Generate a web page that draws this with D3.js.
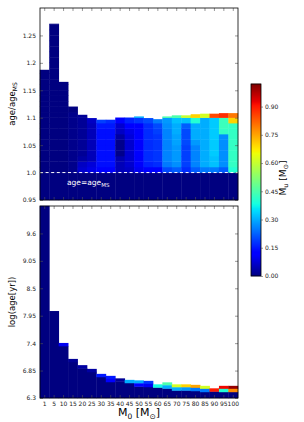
<!DOCTYPE html>
<html>
<head>
<meta charset="utf-8">
<script src="https://cdn.jsdelivr.net/npm/d3@7"></script>
<style>
body { margin: 0; background: #fff; }
text { font-family: "DejaVu Sans", sans-serif; }
</style>
</head>
<body>
<svg id="chart" width="304" height="422"></svg>
<script>
// initial masses (bins)
const masses = [1, 5, 10, 15, 20, 25, 30, 35, 40, 45, 50, 55, 60, 65, 70, 75, 80, 85, 90, 95, 100];

// upper panel: top of each column in age/age_MS
const ratioTop = [1.187, 1.271, 1.165, 1.12, 1.105, 1.099, 1.096, 1.096, 1.1, 1.1, 1.102,
    1.099, 1.097, 1.102, 1.104, 1.104, 1.106, 1.107, 1.107, 1.108, 1.108];
// M_u in cells of 0.01 starting at age/age_MS = 1.00 (anything above is 0)
const ratioCells = [
    [0, 0, 0, 0, 0, 0, 0, 0, 0, 0, 0],
    [0, 0, 0, 0, 0, 0, 0, 0, 0, 0, 0],
    [0, 0, 0, 0, 0, 0, 0, 0, 0, 0, 0],
    [0.01, 0.01, 0.01, 0.01, 0.01, 0.01, 0.01, 0.01, 0.01, 0.01, 0.01],
    [0.07, 0.06, 0.03, 0.02, 0.02, 0.02, 0.02, 0.02, 0.02, 0.02, 0.02],
    [0.09, 0.08, 0.05, 0.05, 0.05, 0.05, 0.05, 0.05, 0.05, 0.06, 0.06],
    [0.12, 0.14, 0.14, 0.14, 0.14, 0.14, 0.14, 0.14, 0.15, 0.19, 0.19],
    [0.12, 0.14, 0.14, 0.14, 0.14, 0.14, 0.14, 0.14, 0.15, 0.17, 0.2],
    [0.05, 0.05, 0.04, 0.01, 0.01, 0.01, 0.03, 0.06, 0.07, 0.12, 0.14],
    [0.06, 0.07, 0.07, 0.07, 0.07, 0.07, 0.08, 0.09, 0.12, 0.16, 0.2],
    [0.1, 0.11, 0.11, 0.12, 0.12, 0.12, 0.12, 0.12, 0.12, 0.18, 0.3],
    [0.12, 0.16, 0.17, 0.17, 0.17, 0.17, 0.17, 0.17, 0.17, 0.2, 0.28],
    [0.12, 0.17, 0.18, 0.18, 0.18, 0.18, 0.18, 0.19, 0.2, 0.25, 0.42],
    [0.2, 0.25, 0.26, 0.26, 0.26, 0.26, 0.26, 0.26, 0.27, 0.28, 0.45],
    [0.22, 0.27, 0.28, 0.28, 0.28, 0.29, 0.29, 0.3, 0.3, 0.32, 0.45],
    [0.17, 0.19, 0.19, 0.19, 0.19, 0.2, 0.2, 0.2, 0.22, 0.32, 0.6],
    [0.22, 0.26, 0.26, 0.26, 0.26, 0.28, 0.3, 0.3, 0.3, 0.4, 0.7],
    [0.25, 0.3, 0.3, 0.3, 0.3, 0.3, 0.3, 0.3, 0.3, 0.3, 0.62],
    [0.25, 0.32, 0.32, 0.33, 0.33, 0.33, 0.33, 0.33, 0.33, 0.33, 0.85],
    [0.22, 0.27, 0.27, 0.27, 0.27, 0.27, 0.27, 0.42, 0.43, 0.43, 0.88],
    [0.4, 0.42, 0.42, 0.42, 0.42, 0.42, 0.42, 0.42, 0.42, 0.7, 0.8]
];

// lower panel: top of each column in log(age[yr])
const logAgeTop = [10.15, 8.04, 7.4, 7.08, 6.955, 6.88, 6.78, 6.74, 6.69, 6.66, 6.65,
    6.64, 6.57, 6.61, 6.57, 6.57, 6.56, 6.54, 6.49, 6.54, 6.54];
// M_u in the top strips of each column, listed from the top down (rest is 0)
const logAgeStrips = [
    [], [], [0.1], [0.02], [0.03], [0.03], [0.15], [0.15, 0.12], [0.02], [0.3],
    [0.3, 0.12], [0.18, 0.1], [0.38], [0.45, 0.3], [0.62, 0.3], [0.7, 0.28],
    [0.75, 0.25], [0.62, 0.25], [0.9], [0.92, 0.4], [1.0, 0.78]
];

const ratioTicks = [0.95, 1.0, 1.05, 1.1, 1.15, 1.2, 1.25];
const logTicks = [6.3, 6.85, 7.4, 7.95, 8.5, 9.05, 9.6];
const muTicks = [0, 0.15, 0.3, 0.45, 0.6, 0.75, 0.9];
const muMax = 1.02;

const svg = d3.select('#chart');

// jet colormap
const jetR = d3.scaleLinear().domain([0, 0.35, 0.66, 0.89, 1]).range([0, 0, 1, 1, 0.5]).clamp(true);
const jetG = d3.scaleLinear().domain([0, 0.125, 0.375, 0.64, 0.91, 1]).range([0, 0, 1, 1, 0, 0]).clamp(true);
const jetB = d3.scaleLinear().domain([0, 0.11, 0.34, 0.65, 1]).range([0.5, 1, 1, 0, 0]).clamp(true);
const norm = d3.scaleLinear().domain([0, muMax]).range([0, 1]);
const color = v => {
    const t = norm(v);
    return d3.rgb(jetR(t) * 255, jetG(t) * 255, jetB(t) * 255).toString();
};

const x = d3.scaleBand().domain(masses).range([40, 238]);
const yTop = d3.scaleLinear().domain([0.95, 1.3]).range([200, 8]);
const yBot = d3.scaleLinear().domain([6.3, 10.15]).range([398, 206]);

const fmt = d => {
    let s = d3.format('.2f')(d);
    return s.endsWith('0') ? s.slice(0, -1) : s;
};

// build cells
const topCells = [];
masses.forEach((m, i) => {
    topCells.push({m, lo: 0.95, hi: 1.0, v: 0});
    for (let k = 0; ; k++) {
        const lo = Math.round((1 + 0.01 * k) * 1000) / 1000;
        if (lo >= ratioTop[i]) break;
        const hi = Math.min(lo + 0.01, ratioTop[i]);
        topCells.push({m, lo, hi, v: ratioCells[i][k] || 0});
    }
});

const stripH = 0.06;
const botCells = [];
masses.forEach((m, i) => {
    const strips = logAgeStrips[i];
    const base = logAgeTop[i] - strips.length * stripH;
    botCells.push({m, lo: 6.3, hi: base, v: 0});
    strips.forEach((v, j) => {
        botCells.push({m, lo: logAgeTop[i] - (j + 1) * stripH, hi: logAgeTop[i] - j * stripH, v});
    });
});

const drawPanel = (cells, y, top, bottom) => {
    const g = svg.append('g');
    g.selectAll('rect.cell')
        .data(cells)
        .enter()
        .append('rect')
        .classed('cell', true)
        .attr('x', d => x(d.m) - 0.2)
        .attr('width', x.bandwidth() + 0.4)
        .attr('y', d => y(d.hi) - 0.2)
        .attr('height', d => Math.max(0, y(d.lo) - y(d.hi) + 0.4))
        .style('fill', d => color(d.v));
    return g;
};

const gTop = drawPanel(topCells, yTop);
const gBot = drawPanel(botCells, yBot);

// dashed line at age = age_MS
svg.append('line')
    .attr('x1', 40).attr('x2', 238)
    .attr('y1', yTop(1.0)).attr('y2', yTop(1.0))
    .style('stroke', '#fff')
    .style('stroke-width', 1)
    .style('stroke-dasharray', '3,2.6');

const lbl = svg.append('text')
    .attr('x', 67).attr('y', 185)
    .style('fill', '#fff')
    .style('font-size', '7.5px')
    .text('age=age');
lbl.append('tspan').attr('dy', 2).style('font-size', '5.5px').text('MS');

// axes
const styleAxis = (sel, labels) => {
    sel.select('.domain').remove();
    sel.selectAll('.tick line').style('stroke', '#555').style('stroke-width', 0.6);
    sel.selectAll('.tick text').style('font-size', '6px').style('fill', '#222')
        .style('font-family', '"DejaVu Sans", sans-serif');
    if (!labels) sel.selectAll('.tick text').remove();
};

const panels = [[yTop, ratioTicks, 8, 200, false], [yBot, logTicks, 206, 398, true]];
panels.forEach(([y, ticks, t, b, xLabels]) => {
    svg.append('g').attr('transform', 'translate(40,0)')
        .call(d3.axisLeft(y).tickValues(ticks).tickSize(-3).tickPadding(4).tickFormat(fmt))
        .call(s => styleAxis(s, true));
    svg.append('g').attr('transform', 'translate(238,0)')
        .call(d3.axisRight(y).tickValues(ticks).tickSize(-3))
        .call(s => styleAxis(s, false));
    svg.append('g').attr('transform', `translate(0,${t})`)
        .call(d3.axisTop(x).tickSize(-3))
        .call(s => styleAxis(s, false));
    svg.append('g').attr('transform', `translate(0,${b})`)
        .call(d3.axisBottom(x).tickSize(-3).tickPadding(4))
        .call(s => styleAxis(s, xLabels));
    svg.append('rect')
        .attr('x', 40).attr('y', t)
        .attr('width', 198).attr('height', b - t)
        .style('fill', 'none')
        .style('stroke', '#000')
        .style('stroke-width', 0.8);
});

// axis titles
const t1 = svg.append('text')
    .attr('transform', 'translate(15,104) rotate(-90)')
    .attr('text-anchor', 'middle')
    .style('font-size', '8.5px')
    .text('age/age');
t1.append('tspan').attr('dy', 2).style('font-size', '6px').text('MS');

svg.append('text')
    .attr('transform', 'translate(15,302) rotate(-90)')
    .attr('text-anchor', 'middle')
    .style('font-size', '8.5px')
    .text('log(age[yr])');

const xt = svg.append('text')
    .attr('x', 139).attr('y', 416)
    .attr('text-anchor', 'middle')
    .style('font-size', '11px')
    .text('M');
xt.append('tspan').attr('dy', 2.5).style('font-size', '7.5px').text('0');
xt.append('tspan').attr('dy', -2.5).text(' [M');
xt.append('tspan').attr('dy', 2.5).style('font-size', '7.5px').text('⊙');
xt.append('tspan').attr('dy', -2.5).text(']');

// colorbar
const cbY = d3.scaleLinear().domain([0, muMax]).range([276, 84]);
const cb = svg.append('g');
cb.selectAll('rect')
    .data(d3.range(0, 192))
    .enter()
    .append('rect')
    .attr('x', 251)
    .attr('width', 10)
    .attr('y', d => 276 - d - 1.2)
    .attr('height', 1.4)
    .style('fill', d => color(cbY.invert(276 - d - 0.5)));
cb.append('rect')
    .attr('x', 251).attr('y', 84)
    .attr('width', 10).attr('height', 192)
    .style('fill', 'none').style('stroke', '#000').style('stroke-width', 0.8);
svg.append('g').attr('transform', 'translate(261,0)')
    .call(d3.axisRight(cbY).tickValues(muTicks).tickSize(2).tickPadding(2).tickFormat(d3.format('.2f')))
    .call(s => styleAxis(s, true));

const cbl = svg.append('text')
    .attr('transform', 'translate(286,178) rotate(-90)')
    .attr('text-anchor', 'middle')
    .style('font-size', '9px')
    .text('M');
cbl.append('tspan').attr('dy', 2).style('font-size', '6.5px').text('u');
cbl.append('tspan').attr('dy', -2).text(' [M');
cbl.append('tspan').attr('dy', 2).style('font-size', '6.5px').text('⊙');
cbl.append('tspan').attr('dy', -2).text(']');
</script>
</body>
</html>
